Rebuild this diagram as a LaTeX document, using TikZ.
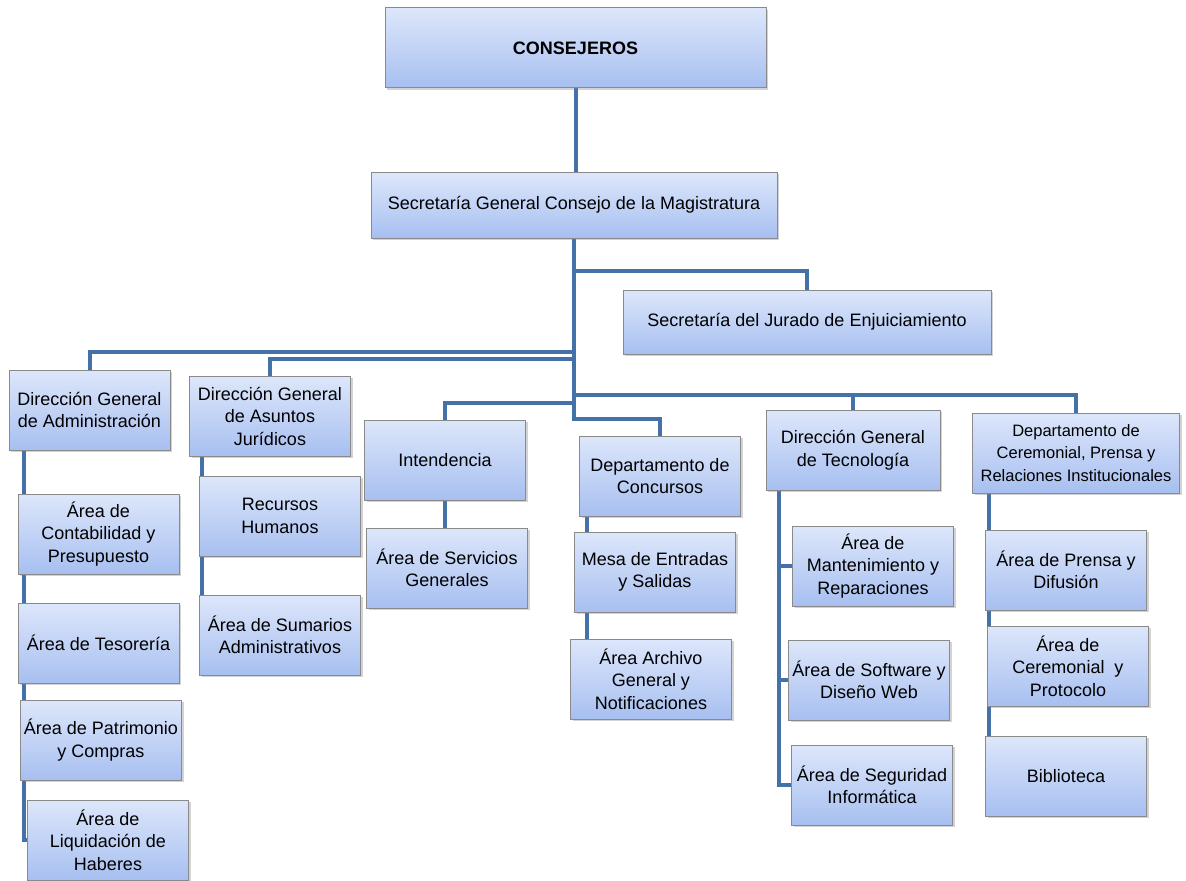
\documentclass[tikz,border=0pt]{standalone}
\usepackage{fontspec}
\setmainfont{Liberation Sans}
\usepackage{xcolor}
\usetikzlibrary{calc,shadows,backgrounds}
\definecolor{orgline}{HTML}{4472A8}
\definecolor{boxtop}{HTML}{DDE7FB}
\definecolor{boxbot}{HTML}{A7BFF0}
\definecolor{boxedge}{HTML}{8A8A8A}

\begin{document}
\begin{tikzpicture}[x=0.6pt,y=-0.6pt,
      unit box/.style={draw=boxedge,line width=0.6pt,top color=boxtop,bottom color=boxbot,
        drop shadow={shadow xshift=1.2pt,shadow yshift=-1.2pt,opacity=0.35},
        align=center,inner sep=1pt,minimum width=96.6pt,minimum height=48pt,
        font=\fontsize{10.8}{13.5}\selectfont},
      link/.style={draw=orgline,line width=2.4pt}]
    \useasboundingbox (0,0) rectangle (1186,881);
    \node[unit box,minimum width=228.6pt,font=\fontsize{10.8}{13.5}\selectfont\bfseries] (Cons) at (575.5,48) {CONSEJEROS};
    \node[unit box,minimum width=243.6pt,minimum height=39.6pt] (SecGen) at (574,205) {Secretaría General Consejo de la Magistratura};
    \node[unit box,minimum width=220.8pt,minimum height=38.4pt] (SecJur) at (807,322) {Secretaría del Jurado de Enjuiciamiento};
    \node[unit box] (DGA) at (89.5,410) {Dirección General\\de Administración};
    \node[unit box] (DGAJ) at (270,416) {Dirección General\\de Asuntos\\Jurídicos};
    \node[unit box] (Int) at (445,460) {Intendencia};
    \node[unit box] (DC) at (660,476) {Departamento de\\Concursos};
    \node[unit box,minimum width=104.4pt] (DGT) at (853,450) {Dirección General\\de Tecnología};
    \node[unit box,minimum width=124.2pt,font=\fontsize{9.9}{13.5}\selectfont] (DCP) at (1076,453) {Departamento de\\Ceremonial, Prensa y\\Relaciones Institucionales};
    \node[unit box] (Cont) at (98.5,534) {Área de\\Contabilidad y\\Presupuesto};
    \node[unit box] (Tes) at (98.5,643) {Área de Tesorería};
    \node[unit box] (Pat) at (101,740) {Área de Patrimonio\\y Compras};
    \node[unit box] (Liq) at (108,840) {Área de\\Liquidación de\\Haberes};
    \node[unit box] (RRHH) at (280,516) {Recursos\\Humanos};
    \node[unit box] (Sum) at (280,635) {Área de Sumarios\\Administrativos};
    \node[unit box] (Serv) at (447,568) {Área de Servicios\\Generales};
    \node[unit box] (Mesa) at (655,572) {Mesa de Entradas\\y Salidas};
    \node[unit box] (Arch) at (651,679) {Área Archivo\\General y\\Notificaciones};
    \node[unit box] (Mant) at (873,566) {Área de\\Mantenimiento y\\Reparaciones};
    \node[unit box] (Soft) at (869,680) {Área de Software y\\Diseño Web};
    \node[unit box] (Seg) at (872,785) {Área de Seguridad\\Informática};
    \node[unit box] (Prensa) at (1066,570) {Área de Prensa y\\Difusión};
    \node[unit box] (Cer) at (1068,666) {Área de\\Ceremonial\ \ y\\Protocolo};
    \node[unit box] (Bib) at (1066,776) {Biblioteca};
    \begin{scope}[on background layer]
      \draw[link] (Cons.south) -- (Cons.south |- SecGen.north);
      \draw[link] (SecGen.south) -- ++(0,32) -| (SecJur.north);
      \draw[link] (SecGen.south) -- ++(0,113) -| (DGA.north);
      \draw[link] (SecGen.south) -- ++(0,120) -| (DGAJ.north);
      \draw[link] (SecGen.south) -- ++(0,164) -| (Int.north);
      \draw[link] (SecGen.south) -- ++(0,156) -| (DGT.north);
      \draw[link] (SecGen.south) -- ++(0,156) -| (DCP.north);
      \draw[link] (SecGen.south) -- ++(0,180) -| (DC.north);
      \foreach \c in {Cont,Tes,Pat,Liq}
        \draw[link] ($(DGA.south west)+(15,0)$) |- (\c.west);
      \foreach \c in {RRHH,Sum}
        \draw[link] ($(DGAJ.south west)+(13,0)$) |- (\c.west);
      \draw[link] (Int.south) -- (Int.south |- Serv.north);
      \foreach \c in {Mesa,Arch}
        \draw[link] ($(DC.south west)+(8,0)$) |- (\c.west);
      \foreach \c in {Mant,Soft,Seg}
        \draw[link] ($(DGT.south west)+(13,0)$) |- (\c.west);
      \foreach \c in {Prensa,Cer,Bib}
        \draw[link] ($(DCP.south west)+(17,0)$) |- (\c.west);
    \end{scope}
  \end{tikzpicture}
\end{document}
